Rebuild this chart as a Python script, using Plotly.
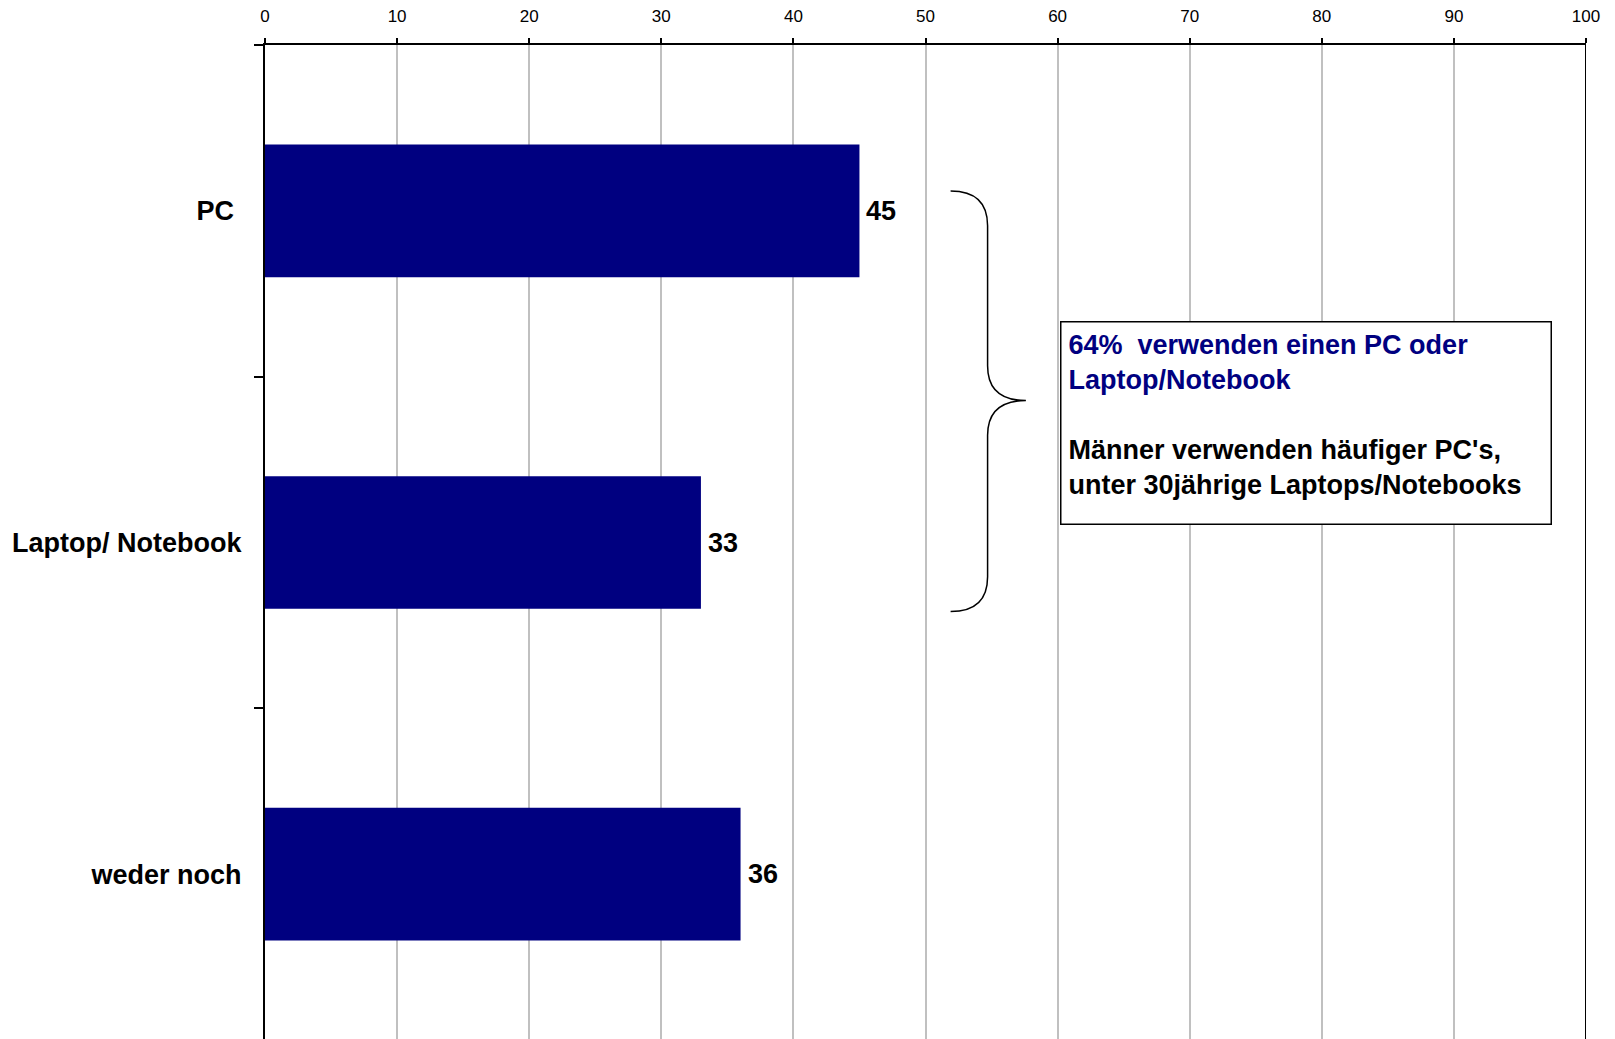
import plotly.graph_objects as go

# Survey data: device usage in percent
categories = ["PC", "Laptop/ Notebook", "weder noch"]
category_labels = ["PC\u00a0", "Laptop/ Notebook", "weder noch"]
values = [45, 33, 36]
x_ticks = [0, 10, 20, 30, 40, 50, 60, 70, 80, 90, 100]

NAVY = "#000080"
FONT = "Liberation Sans, Arial, sans-serif"

fig = go.Figure()

fig.add_trace(go.Bar(
    y=categories,
    x=values,
    orientation="h",
    marker=dict(color=NAVY, line=dict(width=0)),
    hoverinfo="skip",
))

# Value labels just right of each bar end
for cat, val in zip(categories, values):
    fig.add_annotation(
        x=val, y=cat, xref="x", yref="y",
        text=str(val), showarrow=False,
        xanchor="left", yanchor="middle", xshift=5,
        font=dict(family=FONT, size=27, color="black", weight="bold"),
    )

# Curly brace grouping the PC and Laptop bars
x0, xs, xp = 51.9, 54.7, 57.6
ytop, ymid, ybot, r = -0.06, 0.572, 1.208, 0.105
brace = (
    f"M {x0},{ytop} Q {xs},{ytop} {xs},{ytop + r} "
    f"L {xs},{ymid - r} Q {xs},{ymid} {xp},{ymid} "
    f"Q {xs},{ymid} {xs},{ymid + r} "
    f"L {xs},{ybot - r} Q {xs},{ybot} {x0},{ybot}"
)
fig.add_shape(type="path", path=brace, xref="x", yref="y",
              line=dict(color="black", width=1.5))

# Right border of the plot area
fig.add_shape(type="line", xref="x", yref="paper", x0=100, x1=100, y0=0, y1=1,
              line=dict(color="black", width=2))

# Explanatory text box
fig.add_annotation(
    x=60.2, y=0.337, xref="x", yref="y",
    xanchor="left", yanchor="top", yshift=2,
    text=("<span style='color:#000080'>64%  verwenden einen PC oder<br>Laptop/Notebook</span>"
          "<br><br>Männer verwenden häufiger PC's,<br>unter 30jährige Laptops/Notebooks"),
    showarrow=False, align="left", valign="top",
    width=475, height=187,
    bordercolor="black", borderwidth=1.5, borderpad=7, bgcolor="white",
    font=dict(family=FONT, size=27, color="black", weight="bold"),
)

fig.update_layout(
    width=1615, height=1039,
    margin=dict(l=265, r=29, t=45, b=0),
    paper_bgcolor="white", plot_bgcolor="white",
    showlegend=False,
    bargap=0.6,
    font=dict(family=FONT, color="black"),
    xaxis=dict(
        side="top", range=[0, 100], tickvals=x_ticks,
        showgrid=True, gridcolor="#c0c0c0", gridwidth=1.5,
        showline=True, linecolor="black", linewidth=2,
        ticks="outside", ticklen=5, tickcolor="black", tickwidth=1.5,
        ticklabelstandoff=9,
        tickfont=dict(family=FONT, size=17, color="black"),
        zeroline=False, fixedrange=True,
    ),
    yaxis=dict(
        type="category", categoryorder="array", categoryarray=categories,
        tickmode="array", tickvals=categories, ticktext=category_labels,
        range=[2.497, -0.5],
        showgrid=False, zeroline=False,
        showline=True, linecolor="black", linewidth=2,
        ticks="outside", tickson="boundaries", ticklen=9,
        tickcolor="black", tickwidth=2,
        ticklabelstandoff=16,
        tickfont=dict(family=FONT, size=27, color="black", weight="bold"),
        fixedrange=True,
    ),
)

fig.write_html("out.html")
